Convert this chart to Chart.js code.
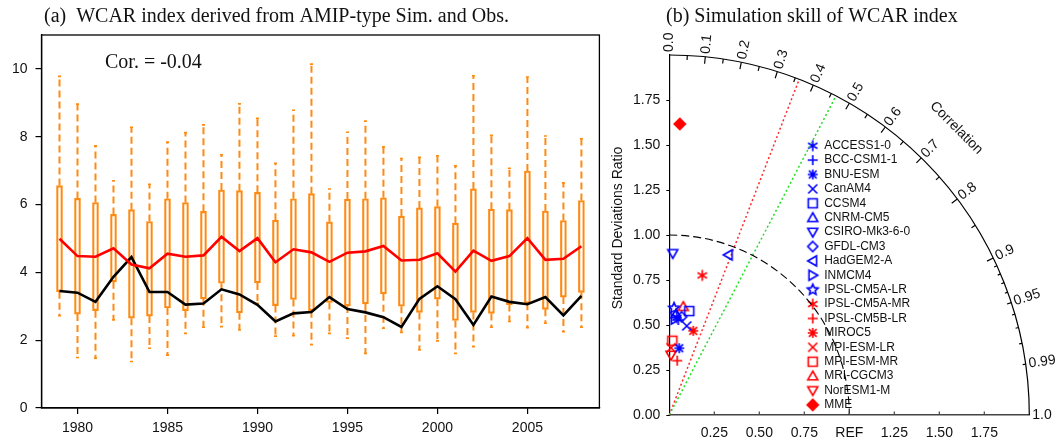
<!DOCTYPE html>
<html>
<head>
<meta charset="utf-8">
<title>WCAR index</title>
<script src="https://cdn.jsdelivr.net/npm/chart.js@4.4.1/dist/chart.umd.min.js"></script>
<style>
  html, body { margin: 0; padding: 0; background: #fff; }
  #wrap { position: relative; width: 1060px; height: 441px; overflow: hidden; }
  canvas { position: absolute; top: 0; }
  #boxChart { left: 0; }
  #taylorChart { left: 605px; }
</style>
</head>
<body>
<div id="wrap">
  <canvas id="boxChart" width="605" height="441"></canvas>
  <canvas id="taylorChart" width="455" height="441"></canvas>
</div>
<script>
// ============================================================================
// (a) WCAR index: model spread (boxes), MME (red), observation (black)
// ============================================================================

const years = [1979, 1980, 1981, 1982, 1983, 1984, 1985, 1986, 1987, 1988,
               1989, 1990, 1991, 1992, 1993, 1994, 1995, 1996, 1997, 1998,
               1999, 2000, 2001, 2002, 2003, 2004, 2005, 2006, 2007, 2008];

const whiskerHigh = [9.78, 8.96, 7.73, 6.70, 8.28, 6.60, 7.84, 8.12, 8.35, 7.47,
                     8.97, 8.54, 7.22, 8.78, 10.14, 6.46, 8.13, 8.46, 7.70, 7.36,
                     7.39, 7.44, 7.14, 9.80, 8.04, 7.07, 9.76, 8.02, 6.64, 7.94];
const boxHigh = [6.56, 6.18, 6.06, 5.71, 5.85, 5.50, 6.17, 6.06, 5.80, 6.43,
                 6.41, 6.36, 5.54, 6.17, 6.32, 5.49, 6.16, 6.17, 6.20, 5.66,
                 5.90, 5.94, 5.45, 6.46, 5.86, 5.85, 6.99, 5.81, 5.53, 6.12];
const boxLow = [3.43, 2.77, 2.87, 3.72, 2.65, 2.71, 2.95, 2.87, 3.22, 3.68,
                2.81, 3.69, 3.02, 3.20, 2.87, 3.11, 3.01, 3.07, 3.37, 3.00,
                2.82, 3.21, 2.58, 2.82, 2.79, 3.05, 3.09, 2.91, 3.27, 3.41];
const whiskerLow = [2.72, 1.49, 1.47, 2.60, 1.37, 1.76, 1.56, 2.20, 2.38, 2.40,
                    2.30, 3.09, 2.12, 2.13, 1.87, 2.20, 2.06, 1.61, 2.35, 2.23,
                    1.71, 1.98, 1.61, 1.81, 2.38, 2.55, 2.37, 2.50, 2.25, 2.38];

const mmeIndex = [4.99, 4.48, 4.46, 4.71, 4.23, 4.12, 4.55, 4.46, 4.50, 5.05,
                  4.63, 5.01, 4.30, 4.68, 4.59, 4.31, 4.58, 4.62, 4.78, 4.35,
                  4.37, 4.56, 4.02, 4.64, 4.34, 4.48, 5.01, 4.37, 4.40, 4.77];
const obsIndex = [3.45, 3.40, 3.13, 3.87, 4.45, 3.42, 3.42, 3.05, 3.08, 3.50,
                  3.35, 3.04, 2.55, 2.79, 2.83, 3.27, 2.92, 2.82, 2.68, 2.39,
                  3.22, 3.59, 3.21, 2.45, 3.29, 3.13, 3.06, 3.27, 2.73, 3.31];

const yearTicks = [1980, 1985, 1990, 1995, 2000, 2005];
const indexTicks = [0, 2, 4, 6, 8, 10];

const panelATitle = '(a)  WCAR index derived from AMIP-type Sim. and Obs.';
const corText = 'Cor. = -0.04';

// ============================================================================
// (b) Taylor diagram of the WCAR index
// ============================================================================

const modelNames = ['ACCESS1-0', 'BCC-CSM1-1', 'BNU-ESM', 'CanAM4', 'CCSM4',
                    'CNRM-CM5', 'CSIRO-Mk3-6-0', 'GFDL-CM3', 'HadGEM2-A', 'INMCM4',
                    'IPSL-CM5A-LR', 'IPSL-CM5A-MR', 'IPSL-CM5B-LR', 'MIROC5', 'MPI-ESM-LR',
                    'MPI-ESM-MR', 'MRI-CGCM3', 'NorESM1-M', 'MME'];
const sdRatio = [0.542, 0.530, 0.375, 0.504, 0.588, 0.562, 0.898, 0.550, 0.948, 0.534,
                 0.594, 0.797, 0.305, 0.486, 0.374, 0.413, 0.607, 0.333, 1.618];
const corr = [0.076, 0.095, 0.148, 0.192, 0.189, 0.066, 0.021, 0.125, 0.346, 0.060,
              0.044, 0.230, 0.144, 0.274, 0.025, 0.041, 0.128, 0.028, 0.036];
const modelShapes = ['asterisk6', 'plus', 'asterisk', 'cross', 'square',
                     'triUp', 'triDown', 'diamond', 'triLeft', 'triRight',
                     'star', 'asterisk6', 'plus', 'asterisk', 'cross',
                     'square', 'triUp', 'triDown', 'diamondFill'];
const modelColors = ['#0000ff', '#0000ff', '#0000ff', '#0000ff', '#0000ff',
                     '#0000ff', '#0000ff', '#0000ff', '#0000ff', '#0000ff',
                     '#0000ff', '#ff0000', '#ff0000', '#ff0000', '#ff0000',
                     '#ff0000', '#ff0000', '#ff0000', '#ff0000'];

const sdMax = 2.0;
const sdTicksY = [0, 0.25, 0.5, 0.75, 1.0, 1.25, 1.5, 1.75];
const sdTicksX = [0.25, 0.5, 0.75, 1.0, 1.25, 1.5, 1.75];
const sdTickLabelsX = ['0.25', '0.50', '0.75', 'REF', '1.25', '1.50', '1.75'];

const corrMajor = [0.1, 0.2, 0.3, 0.4, 0.5, 0.6, 0.7, 0.8, 0.9];
const corrMedium = [0.05, 0.15, 0.25, 0.35, 0.45, 0.55, 0.65, 0.75, 0.85, 0.95];
const corrMinor = [0.91, 0.92, 0.93, 0.94, 0.96, 0.97, 0.98, 0.99];
const corrLabelValues = [0.0, 0.1, 0.2, 0.3, 0.4, 0.5, 0.6, 0.7, 0.8, 0.9, 0.95, 0.99, 1.0];
const corrLabelTexts = ['0.0', '0.1', '0.2', '0.3', '0.4', '0.5', '0.6', '0.7', '0.8', '0.9', '0.95', '0.99', '1.0'];

// significance thresholds (n = 30): 95% red, 99% green
const sigCorr = [0.361, 0.463];
const sigColors = ['#ff2a2a', '#22dd22'];

const ORANGE = '#ff8a12';
const SANS = '"Liberation Sans", Arial, sans-serif';
const SERIF = '"Liberation Serif", "Times New Roman", serif';

Chart.defaults.font.family = SANS;
Chart.defaults.color = '#111';

// ----------------------------------------------------------------------------
// helpers
// ----------------------------------------------------------------------------

function makeMarker(shape, color) {
    const size = 18, m = size / 2;
    const r = shape === 'diamondFill' ? 5.6 : 5.0;
    const cv = document.createElement('canvas');
    cv.width = size;
    cv.height = size;
    const g = cv.getContext('2d');
    g.strokeStyle = color;
    g.fillStyle = color;
    g.lineWidth = 1.6;
    g.beginPath();

    const poly = pts => {
        pts.forEach(([px, py], k) => k ? g.lineTo(m + px, m + py) : g.moveTo(m + px, m + py));
        g.closePath();
    };
    const ray = (a, len = r) => {
        g.moveTo(m - len * Math.cos(a), m - len * Math.sin(a));
        g.lineTo(m + len * Math.cos(a), m + len * Math.sin(a));
    };

    switch (shape) {
        case 'plus': ray(0); ray(Math.PI / 2); break;
        case 'cross': ray(Math.PI / 4, 6.4); ray(-Math.PI / 4, 6.4); break;
        case 'asterisk': ray(0); ray(Math.PI / 2); ray(Math.PI / 4, 5.4); ray(-Math.PI / 4, 5.4); break;
        case 'asterisk6': ray(Math.PI / 2, 5.4); ray(Math.PI / 6, 5.4); ray(-Math.PI / 6, 5.4); break;
        case 'square': g.rect(m - 4.5, m - 4.5, 9, 9); break;
        case 'triUp': poly([[0, -r], [r, r * 0.75], [-r, r * 0.75]]); break;
        case 'triDown': poly([[0, r], [r, -r * 0.75], [-r, -r * 0.75]]); break;
        case 'triLeft': poly([[-r, 0], [r * 0.75, -r], [r * 0.75, r]]); break;
        case 'triRight': poly([[r, 0], [-r * 0.75, -r], [-r * 0.75, r]]); break;
        case 'diamond':
        case 'diamondFill': poly([[0, -r], [r, 0], [0, r], [-r, 0]]); break;
        case 'star': {
            const pts = [];
            for (let k = 0; k < 10; k++) {
                const a = -Math.PI / 2 + k * Math.PI / 5;
                const rr = k % 2 ? 2.6 : 5.6;
                pts.push([rr * Math.cos(a), rr * Math.sin(a)]);
            }
            poly(pts);
            break;
        }
    }
    if (shape === 'diamondFill') g.fill();
    g.stroke();
    return cv;
}

// ----------------------------------------------------------------------------
// panel (a)
// ----------------------------------------------------------------------------

// whisker segments: box edge -> whisker end, separated by gaps
const whiskerPoints = [];
const capPoints = [];
years.forEach((yr, i) => {
    whiskerPoints.push({ x: yr, y: boxHigh[i] }, { x: yr, y: whiskerHigh[i] }, { x: yr, y: null });
    whiskerPoints.push({ x: yr, y: boxLow[i] }, { x: yr, y: whiskerLow[i] }, { x: yr, y: null });
    capPoints.push({ x: yr, y: whiskerHigh[i] }, { x: yr, y: whiskerLow[i] });
});

const panelAPlugin = {
    id: 'panelA',
    afterDraw(chart) {
        const { ctx, chartArea: a } = chart;
        ctx.save();
        ctx.strokeStyle = '#000';
        ctx.lineWidth = 1.3;
        ctx.strokeRect(a.left, a.top, a.right - a.left, a.bottom - a.top);

        ctx.fillStyle = '#111';
        ctx.textBaseline = 'middle';
        ctx.textAlign = 'left';
        ctx.font = '20px ' + SERIF;
        ctx.fillText(panelATitle, 44, 17);
        ctx.fillText(corText, 105, 63);
        ctx.restore();
    }
};

new Chart(document.getElementById('boxChart'), {
    type: 'bar',
    data: {
        datasets: [
            {
                type: 'line',
                label: 'MME',
                data: years.map((yr, i) => ({ x: yr, y: mmeIndex[i] })),
                borderColor: '#ff0000',
                borderWidth: 2.6,
                pointRadius: 0,
                order: 0
            },
            {
                type: 'line',
                label: 'Obs',
                data: years.map((yr, i) => ({ x: yr, y: obsIndex[i] })),
                borderColor: '#000000',
                borderWidth: 2.6,
                pointRadius: 0,
                order: 1
            },
            {
                type: 'line',
                label: 'whiskers',
                data: whiskerPoints,
                borderColor: ORANGE,
                borderWidth: 2,
                borderDash: [7, 4],
                borderCapStyle: 'butt',
                pointRadius: 0,
                spanGaps: false,
                order: 2
            },
            {
                type: 'line',
                label: 'caps',
                data: capPoints,
                showLine: false,
                pointStyle: 'line',
                pointRadius: 1.5,
                pointBorderWidth: 1.6,
                pointBorderColor: ORANGE,
                order: 3
            },
            {
                type: 'bar',
                label: 'boxes',
                data: years.map((yr, i) => ({ x: yr, y: [boxLow[i], boxHigh[i]] })),
                backgroundColor: 'rgba(0,0,0,0)',
                borderColor: ORANGE,
                borderWidth: 1.5,
                borderSkipped: false,
                barThickness: 6,
                order: 4
            }
        ]
    },
    options: {
        responsive: false,
        devicePixelRatio: 1,
        animation: false,
        events: [],
        layout: { padding: { top: 35, right: 5, left: 0, bottom: 0 } },
        plugins: { legend: { display: false }, tooltip: { enabled: false } },
        scales: {
            x: {
                type: 'linear',
                min: 1978,
                max: 2009,
                offset: false,
                afterBuildTicks: s => { s.ticks = yearTicks.map(v => ({ value: v })); },
                afterFit: s => { s.height = 33; },
                ticks: { font: { size: 14 }, padding: 6, maxRotation: 0, callback: v => String(v) },
                grid: { display: true, offset: false, drawOnChartArea: false, tickLength: 6, color: '#000', lineWidth: 1.2 },
                border: { display: true, color: '#000', width: 1.3 }
            },
            y: {
                type: 'linear',
                min: 0,
                max: 11,
                afterBuildTicks: s => { s.ticks = indexTicks.map(v => ({ value: v })); },
                afterFit: s => { s.width = 41.5; },
                ticks: { font: { size: 14 }, padding: 8 },
                grid: { display: true, drawOnChartArea: false, tickLength: 6, color: '#000', lineWidth: 1.2 },
                border: { display: true, color: '#000', width: 1.3 }
            }
        }
    },
    plugins: [panelAPlugin]
});

// ----------------------------------------------------------------------------
// panel (b)
// ----------------------------------------------------------------------------

const markerImgs = modelShapes.map((s, i) => makeMarker(s, modelColors[i]));

const legendX = 207.7;      // marker centre (canvas px)
const legendTop = 145.7;
const legendStep = 14.4;

const taylorPlugin = {
    id: 'taylor',
    beforeDatasetsDraw(chart) {
        const { ctx, scales: { x, y } } = chart;
        const cx = x.getPixelForValue(0);
        const cy = y.getPixelForValue(0);
        const R = x.getPixelForValue(sdMax) - cx;
        const rRef = x.getPixelForValue(1) - cx;
        const polar = (r, c) => {
            const th = Math.acos(c);
            return [cx + r * Math.cos(th), cy - r * Math.sin(th)];
        };

        ctx.save();

        // 1. title and y-axis title
        ctx.fillStyle = '#111';
        ctx.textBaseline = 'middle';
        ctx.textAlign = 'left';
        ctx.font = '20px ' + SERIF;
        ctx.fillText('(b) Simulation skill of WCAR index', 61, 17);

        ctx.save();
        ctx.translate(13, 228);
        ctx.rotate(-Math.PI / 2);
        ctx.textAlign = 'center';
        ctx.font = '14px ' + SANS;
        ctx.fillText('Standard Deviations Ratio', 0, 0);
        ctx.restore();

        // 2. legend
        ctx.font = '12px ' + SANS;
        chart.data.datasets.forEach((ds, i) => {
            const ly = legendTop + i * legendStep;
            const img = ds.pointStyle;
            ctx.drawImage(img, legendX - img.width / 2, ly - img.height / 2);
            ctx.fillText(ds.label, legendX + 11.5, ly);
        });

        // 3. outer correlation arc with ticks
        ctx.strokeStyle = '#000';
        ctx.lineWidth = 1.2;
        ctx.beginPath();
        ctx.arc(cx, cy, R, -Math.PI / 2, 0);
        ctx.stroke();

        const tick = (list, len) => {
            ctx.beginPath();
            list.forEach(c => {
                const [x1, y1] = polar(R, c);
                const [x2, y2] = polar(R - len, c);
                ctx.moveTo(x1, y1);
                ctx.lineTo(x2, y2);
            });
            ctx.stroke();
        };
        tick(corrMajor, 7);
        tick(corrMedium, 4.5);
        tick(corrMinor, 3);

        ctx.font = '14px ' + SANS;
        corrLabelValues.forEach((c, i) => {
            const [lx, ly] = polar(R + 3, c);
            ctx.save();
            ctx.translate(lx, ly);
            ctx.rotate(-Math.acos(c));
            ctx.fillText(corrLabelTexts[i], 0, 0);
            ctx.restore();
        });

        ctx.save();
        const [tx, ty] = polar(R + 46, Math.cos(Math.PI / 4));
        ctx.translate(tx, ty);
        ctx.rotate(Math.PI / 4);
        ctx.textAlign = 'center';
        ctx.fillText('Correlation', 0, 0);
        ctx.restore();

        // 4. significance lines
        ctx.lineWidth = 1.5;
        ctx.setLineDash([2, 2.5]);
        sigCorr.forEach((c, i) => {
            const [ex, ey] = polar(R, c);
            ctx.strokeStyle = sigColors[i];
            ctx.beginPath();
            ctx.moveTo(cx, cy);
            ctx.lineTo(ex, ey);
            ctx.stroke();
        });

        // 5. reference std arc
        ctx.strokeStyle = '#000';
        ctx.lineWidth = 1.1;
        ctx.setLineDash([8, 4]);
        ctx.beginPath();
        ctx.arc(cx, cy, rRef, -Math.PI / 2, 0);
        ctx.stroke();
        ctx.setLineDash([]);

        // 6. inward ticks on the x axis
        ctx.strokeStyle = '#444';
        ctx.lineWidth = 1.2;
        ctx.beginPath();
        sdTicksX.forEach(v => {
            const px = x.getPixelForValue(v);
            ctx.moveTo(px, cy);
            ctx.lineTo(px, cy - 3.5);
        });
        ctx.stroke();

        ctx.restore();
    }
};

new Chart(document.getElementById('taylorChart'), {
    type: 'scatter',
    data: {
        datasets: modelNames.map((name, i) => ({
            label: name,
            data: [{ x: sdRatio[i] * corr[i], y: sdRatio[i] * Math.sqrt(1 - corr[i] * corr[i]) }],
            pointStyle: markerImgs[i],
            pointRadius: 5,
            clip: false
        }))
    },
    options: {
        responsive: false,
        devicePixelRatio: 1,
        animation: false,
        events: [],
        layout: { padding: { top: 55, right: 30.7, left: 0, bottom: 0 } },
        plugins: { legend: { display: false }, tooltip: { enabled: false } },
        scales: {
            x: {
                type: 'linear',
                min: 0,
                max: sdMax,
                afterBuildTicks: s => { s.ticks = sdTicksX.map(v => ({ value: v })); },
                afterFit: s => { s.height = 26; },
                ticks: {
                    font: { size: 14 },
                    padding: 10,
                    maxRotation: 0,
                    callback: v => sdTickLabelsX[sdTicksX.indexOf(v)] ?? ''
                },
                grid: { display: false, drawTicks: false },
                border: { display: true, color: '#444', width: 1.5 }
            },
            y: {
                type: 'linear',
                min: 0,
                max: sdMax,
                afterBuildTicks: s => { s.ticks = sdTicksY.map(v => ({ value: v })); },
                afterFit: s => { s.width = 64.3; },
                ticks: { font: { size: 14 }, padding: 6, callback: v => v.toFixed(2) },
                grid: { display: true, drawOnChartArea: false, tickLength: 3, color: '#000' },
                border: { display: true, color: '#000', width: 1.2 }
            }
        }
    },
    plugins: [taylorPlugin]
});
</script>
</body>
</html>
